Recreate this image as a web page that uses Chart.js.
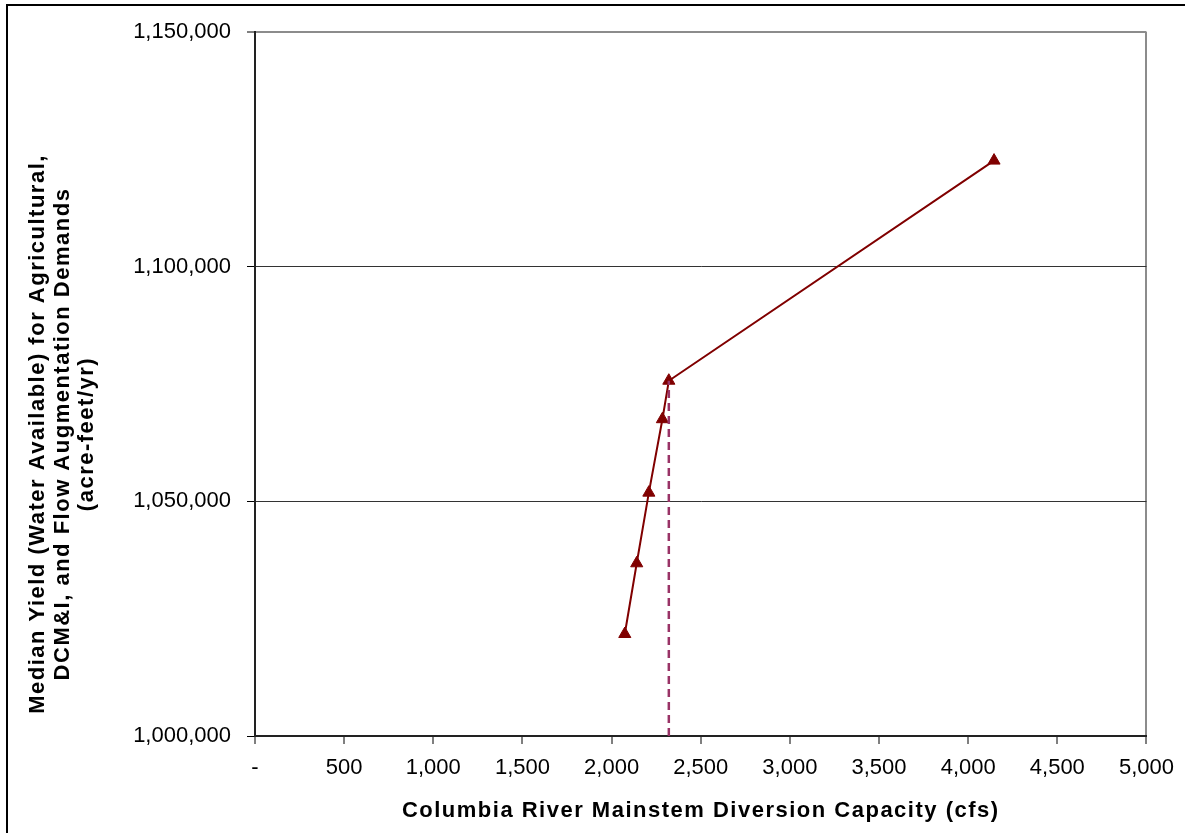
<!DOCTYPE html>
<html lang="en">
<head>
    <meta charset="UTF-8">
    <title>Median Yield vs Diversion Capacity</title>
    <script src="https://cdn.jsdelivr.net/npm/chart.js"></script>
    <style>
        html, body {
            margin: 0;
            padding: 0;
            background: #fff;
            overflow: hidden;
        }
        #frame {
            position: absolute;
            left: 6px;
            top: 4px;
            width: 1300px;
            height: 900px;
            border-top: 2px solid #000;
            border-left: 2px solid #000;
        }
        #wrap {
            position: absolute;
            left: 0;
            top: 0;
            width: 1185px;
            height: 833px;
        }
    </style>
</head>
<body>
    <div id="frame"></div>
    <div id="wrap"><canvas id="chart"></canvas></div>

    <script>
        // Diversion capacity (cfs) and median yield (acre-feet/yr)
        const capacity = [2074, 2141, 2209, 2285, 2321, 4145];
        const yieldAf = [1021730, 1036800, 1051850, 1067500, 1075700, 1122600];

        // the dashed drop line sits under the 5th point
        const dropIndex = 4;

        const xTicks = { min: 0, max: 5000, step: 500 };
        const yTicks = { min: 1000000, max: 1150000, step: 50000 };

        const xTitle = 'Columbia River Mainstem Diversion Capacity (cfs)';
        const yTitle = [
            'Median Yield (Water Available) for Agricultural,',
            'DCM&I, and Flow Augmentation Demands',
            '(acre-feet/yr)'
        ];

        const fontFamily = '"Liberation Sans", Arial, sans-serif';

        function fmt(v) {
            return v === 0 ? '-' : v.toLocaleString('en-US');
        }

        const mainPoints = capacity.map((x, i) => ({ x: x, y: yieldAf[i] }));
        const dropPoints = [
            { x: capacity[dropIndex], y: yTicks.min },
            { x: capacity[dropIndex], y: yieldAf[dropIndex] }
        ];

        // axis titles are drawn by hand so they can get the spaced-out look of the original
        const axisTitles = {
            id: 'axisTitles',
            afterDraw(chart) {
                const c = chart.ctx;
                const area = chart.chartArea;
                c.save();
                c.fillStyle = '#000';
                c.font = 'bold 22px ' + fontFamily;
                c.letterSpacing = '1.5px';
                c.textAlign = 'center';
                c.textBaseline = 'middle';
                c.fillText(xTitle, (area.left + area.right) / 2, 811);

                c.translate(38, 434);
                c.rotate(-Math.PI / 2);
                yTitle.forEach((line, i) => {
                    c.fillText(line, 0, i * 24.5);
                });
                c.restore();
            }
        };

        const ctx = document.getElementById('chart').getContext('2d');
        new Chart(ctx, {
            type: 'scatter',
            data: {
                datasets: [
                    {
                        data: dropPoints,
                        showLine: true,
                        borderColor: '#993366',
                        borderWidth: 2.5,
                        borderDash: [8, 5],
                        pointRadius: 0
                    },
                    {
                        data: mainPoints,
                        showLine: true,
                        borderColor: '#800000',
                        borderWidth: 2,
                        pointStyle: 'triangle',
                        pointRadius: 7,
                        pointBackgroundColor: '#800000',
                        pointBorderColor: '#800000',
                        pointBorderWidth: 1
                    }
                ]
            },
            plugins: [axisTitles],
            options: {
                responsive: true,
                maintainAspectRatio: false,
                animation: false,
                layout: {
                    padding: { top: 32, right: 38, left: 0, bottom: 0 }
                },
                plugins: {
                    legend: { display: false },
                    tooltip: { enabled: false }
                },
                scales: {
                    x: {
                        type: 'linear',
                        min: xTicks.min,
                        max: xTicks.max,
                        afterFit: function(scale) { scale.height = 97; },
                        ticks: {
                            stepSize: xTicks.step,
                            color: '#000',
                            padding: 11,
                            maxRotation: 0,
                            font: { family: fontFamily, size: 22 },
                            callback: fmt
                        },
                        grid: {
                            color: c => c.tick && c.tick.value === xTicks.max ? '#8c8c8c' : 'transparent',
                            lineWidth: 2,
                            tickColor: '#000',
                            tickLength: 8,
                            tickWidth: 1
                        },
                        border: { color: '#222', width: 2 }
                    },
                    y: {
                        type: 'linear',
                        min: yTicks.min,
                        max: yTicks.max,
                        afterFit: function(scale) { scale.width = 255; },
                        ticks: {
                            stepSize: yTicks.step,
                            color: '#000',
                            padding: 16,
                            font: { family: fontFamily, size: 22 },
                            callback: fmt
                        },
                        grid: {
                            color: c => c.tick && c.tick.value === yTicks.max ? '#8c8c8c' : '#333',
                            lineWidth: c => c.tick && c.tick.value === yTicks.max ? 2 : 1,
                            tickColor: '#000',
                            tickLength: 8,
                            tickWidth: 1
                        },
                        border: { color: '#222', width: 2 }
                    }
                }
            }
        });
    </script>
</body>
</html>
